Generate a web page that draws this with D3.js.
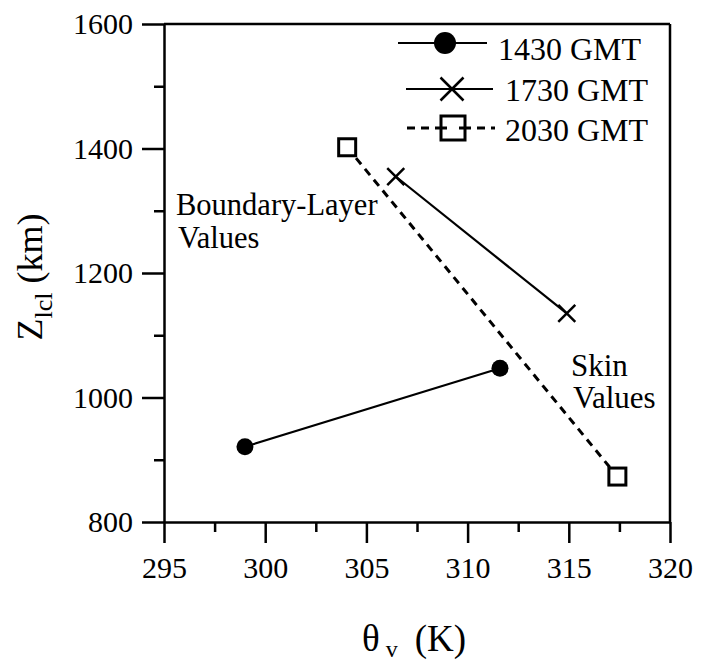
<!DOCTYPE html>
<html><head><meta charset="utf-8">
<script src="https://cdn.jsdelivr.net/npm/d3@7"></script>
<style>body{margin:0;background:#fff}svg{display:block}text{font-family:"Liberation Serif","Times New Roman",serif;fill:#000}</style>
</head><body><svg id="c" width="706" height="663"></svg>
<script>
const seriesNames = ["1430 GMT", "1730 GMT", "2030 GMT"];
const thetaV = [[299.0, 311.6], [306.45, 314.9], [304.05, 317.4]];
const zlcl   = [[921, 1047], [1355, 1135], [1402, 873]];
const xTicks = [295, 300, 305, 310, 315, 320];
const yTicks = [800, 1000, 1200, 1400, 1600];
const xMinor = [297.5, 302.5, 307.5, 312.5, 317.5];
const yMinor = [900, 1100, 1300, 1500];

const svg = d3.select("#c");
const L = 164, R = 670, T = 24, B = 522;
const x = d3.scaleLinear().domain([295, 320]).range([L, R]);
const y = d3.scaleLinear().domain([800, 1600]).range([B, T]);

svg.append("line").attr("x1", L).attr("x2", R).attr("y1", T).attr("y2", T).attr("stroke", "#000").attr("stroke-width", 2.5);
svg.append("line").attr("x1", R).attr("x2", R).attr("y1", T).attr("y2", B).attr("stroke", "#000").attr("stroke-width", 2.5);

function styleAxis(g) {
  g.attr("font-family", "Liberation Serif").attr("font-size", 30);
  g.select(".domain").attr("stroke-width", 2.5);
  g.selectAll(".tick line").attr("stroke-width", 2.5);
  g.selectAll("text").style("font-family", '"Liberation Serif",serif').style("font-size", "30px");
}
const gx = svg.append("g").attr("transform", `translate(0,${B})`)
  .call(d3.axisBottom(x).tickValues(xTicks).tickSize(21).tickSizeOuter(0).tickPadding(14).tickFormat(d3.format("d")));
styleAxis(gx);
svg.append("g").attr("transform", `translate(0,${B})`)
  .call(d3.axisBottom(x).tickValues(xMinor).tickSize(10).tickSizeOuter(0).tickFormat(""))
  .call(g => { g.select(".domain").remove(); g.selectAll(".tick line").attr("stroke-width", 2.5); });
const gy = svg.append("g").attr("transform", `translate(${L},0)`)
  .call(d3.axisLeft(y).tickValues(yTicks).tickSize(22).tickSizeOuter(0).tickPadding(9).tickFormat(d3.format("d")));
styleAxis(gy);
svg.append("g").attr("transform", `translate(${L},0)`)
  .call(d3.axisLeft(y).tickValues(yMinor).tickSize(10).tickSizeOuter(0).tickFormat(""))
  .call(g => { g.select(".domain").remove(); g.selectAll(".tick line").attr("stroke-width", 2.5); });

function marker(g, type, cx, cy, s) {
  if (type === 0) {
    g.append("circle").attr("cx", cx).attr("cy", cy).attr("r", s).attr("fill", "#000");
  } else if (type === 1) {
    g.append("path").attr("d", `M${cx - s},${cy - s}L${cx + s},${cy + s}M${cx - s},${cy + s}L${cx + s},${cy - s}`)
      .attr("stroke", "#000").attr("stroke-width", 2.5).attr("fill", "none");
  } else {
    g.append("rect").attr("x", cx - s).attr("y", cy - s).attr("width", 2 * s).attr("height", 2 * s)
      .attr("fill", "#fff").attr("stroke", "#000").attr("stroke-width", 3);
  }
}
const dashes = [null, null, "8,6"];
const line = d3.line().x(d => x(d[0])).y(d => y(d[1]));
const plot = svg.append("g");
seriesNames.forEach((n, i) => {
  const pts = thetaV[i].map((v, j) => [v, zlcl[i][j]]);
  plot.append("path").attr("d", line(pts)).attr("fill", "none").attr("stroke", "#000")
    .attr("stroke-width", i === 2 ? 3 : 2.2).attr("stroke-dasharray", dashes[i]);
  pts.forEach(p => marker(plot, i, x(p[0]), y(p[1]), 8.5));
});

// legend
const leg = [{x1: 398, x2: 487, cx: 445, y: 43, tx: 498, ty: 60, s: 11},
             {x1: 406, x2: 493, cx: 452, y: 89, tx: 505, ty: 101, s: 11.5},
             {x1: 407, x2: 495, cx: 453, y: 128, tx: 505, ty: 141, s: 12}];
seriesNames.forEach((n, i) => {
  const l = leg[i];
  svg.append("line").attr("x1", l.x1).attr("x2", l.x2).attr("y1", l.y).attr("y2", l.y)
    .attr("stroke", "#000").attr("stroke-width", i === 2 ? 3 : 2.2).attr("stroke-dasharray", dashes[i]);
  marker(svg, i, l.cx, l.y, l.s);
  if (i === 2) svg.append("line").attr("x1", l.cx - l.s).attr("x2", l.cx + l.s).attr("y1", l.y).attr("y2", l.y)
    .attr("stroke", "#000").attr("stroke-width", 3).attr("stroke-dasharray", "6,12");
  svg.append("text").attr("x", l.tx).attr("y", l.ty).style("font-size", "32px").text(n);
});

// annotations
svg.append("text").attr("x", 176).attr("y", 215).style("font-size", "30.5px").text("Boundary-Layer");
svg.append("text").attr("x", 178).attr("y", 248).style("font-size", "30.5px").text("Values");
svg.append("text").attr("x", 571).attr("y", 376).style("font-size", "31px").text("Skin");
svg.append("text").attr("x", 573).attr("y", 408).style("font-size", "31px").text("Values");

// axis titles
const xt = svg.append("text").attr("x", 362).attr("y", 651).style("font-size", "37px");
xt.append("tspan").text("θ");
xt.append("tspan").attr("dx", 6).attr("dy", 6).style("font-size", "24px").text("v");
xt.append("tspan").attr("dx", 17).attr("dy", -6).text("(K)");

const yt = svg.append("text").attr("transform", "translate(42,277) rotate(-90)").attr("text-anchor", "middle").style("font-size", "36px");
yt.append("tspan").text("Z");
yt.append("tspan").attr("dy", 10).style("font-size", "26px").text("lcl");
yt.append("tspan").attr("dy", -10).text(" (km)");
</script></body></html>
